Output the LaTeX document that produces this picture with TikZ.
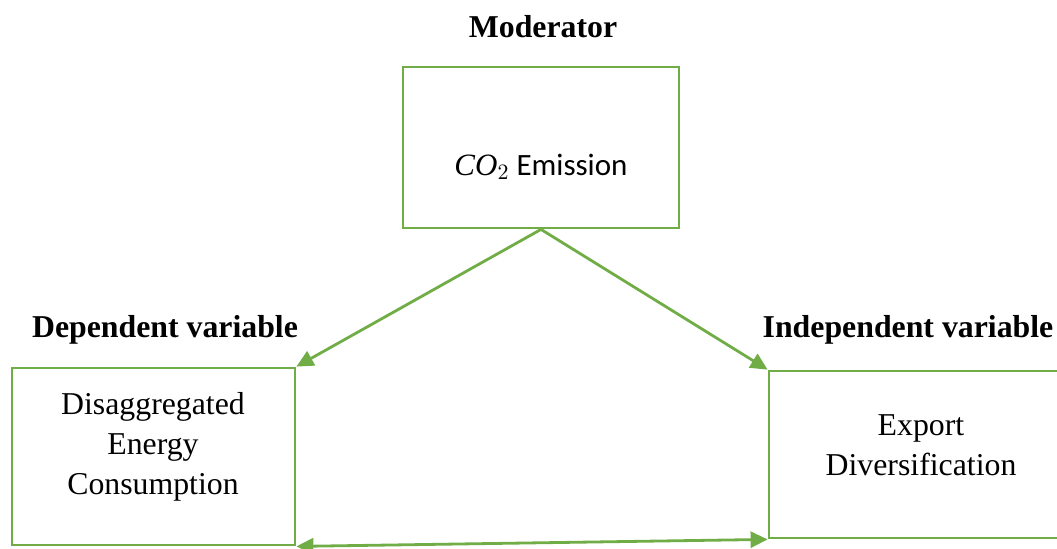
\documentclass[tikz,border=0pt]{standalone}
\usepackage{fontspec}
\setmainfont{Liberation Serif}
\newfontfamily\calibrifont{Carlito}
\usepackage{tikz}
\usetikzlibrary{positioning}
\usetikzlibrary{arrows.meta}
\definecolor{offgreen}{HTML}{70AD47}

\begin{document}
\begin{tikzpicture}[x=0.5pt, y=-0.5pt]

		\tikzset{
			box/.style={draw=offgreen, line width=1.4pt, rectangle, inner sep=0pt},
			title/.style={font=\fontsize{15.9}{20}\selectfont\bfseries},
			boxtext/.style={font=\fontsize{15.9}{20}\selectfont, align=center},
			tip/.style={Triangle[length=8.5pt, width=8pt]},
			link/.style={draw=offgreen, line width=1.4pt, -{Triangle[length=8.5pt, width=8pt]}}
		}

		% page frame
		\clip (0,0) rectangle (1057,548);

		% --- moderator ---
		\node[title] (modtitle) at (543,27) {Moderator};
		\node[box, minimum width=138pt, minimum height=80.5pt] (co2) at (541,147.5) {};
		\node[font=\fontsize{15.5}{20}\selectfont\calibrifont] (co2txt) at (541,167) {$\mathit{CO}_2$ Emission};

		% --- dependent variable ---
		\node[title] (deptitle) at (165,330) {Dependent variable};
		\node[box, minimum width=141.5pt, minimum height=88.5pt] (dep) at (153.5,456.5) {};
		\node[boxtext] (deptxt) at (153,447) {Disaggregated\\Energy\\Consumption};

		% --- independent variable ---
		\node[title] (indtitle) at (908,330) {Independent variable};
		\node[box, minimum width=165.5pt, minimum height=83.5pt] (ind) at (934.5,454.5) {};
		\node[boxtext] (indtxt) at (921,445) {Export\\Diversification};

		% connectors
		\draw[link] (co2.south) -- (dep.north east);
		\draw[link] (co2.south) -- (ind.north west);
		\draw[link, {Triangle[length=8.5pt, width=8pt]}-{Triangle[length=8.5pt, width=8pt]}] (ind.south west) -- (dep.south east);

	\end{tikzpicture}
\end{document}
